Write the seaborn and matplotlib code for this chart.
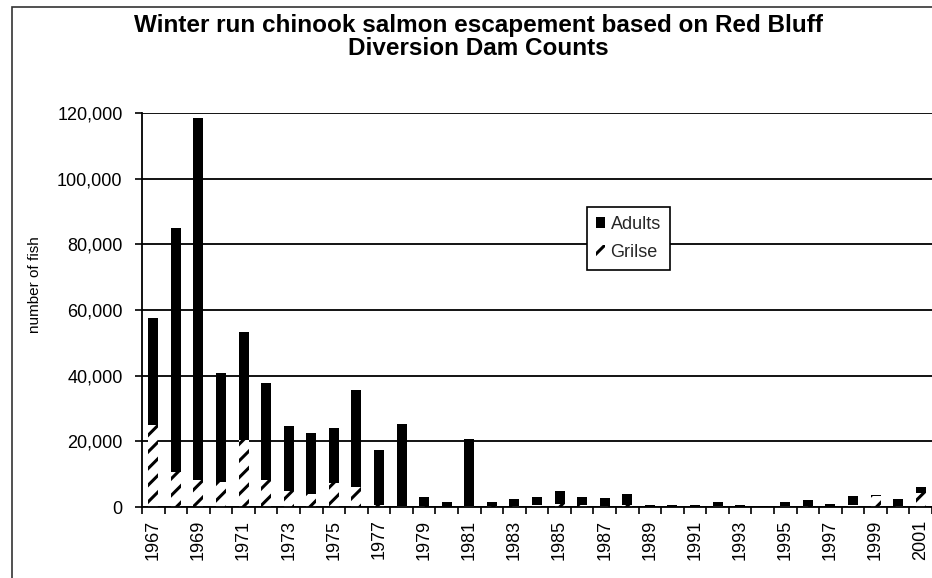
import numpy as np
import pandas as pd
import matplotlib
matplotlib.use("Agg")
import matplotlib.pyplot as plt
import seaborn as sns
from matplotlib.patches import Patch, Rectangle
from matplotlib.ticker import FuncFormatter, FixedLocator

# ---- data ----
years = list(range(1967, 2002))
adults = [32600, 74300, 110200, 33200, 32900, 29500, 19600, 18600, 16700, 29400,
          16800, 24900, 2700, 1500, 20200, 1400, 2100, 2400, 3800, 2400,
          2200, 3400, 500, 400, 500, 1400, 500, 150, 1200, 1700,
          700, 2900, 300, 2000, 2000]
grilse = [25000, 10800, 8200, 7700, 20500, 8200, 5000, 4000, 7300, 6200,
          600, 400, 200, 100, 400, 200, 300, 500, 1000, 500,
          400, 500, 100, 100, 100, 200, 100, 50, 300, 300,
          100, 500, 3300, 300, 4200]
y_ticks = [0, 20000, 40000, 60000, 80000, 100000, 120000]
title = "Winter run chinook salmon escapement based on Red Bluff\nDiversion Dam Counts"
y_label = "number of fish"
series_names = ["Adults", "Grilse"]

sns.set_theme(style="white")
plt.rcParams['font.family'] = ['Liberation Sans', 'DejaVu Sans']
plt.rcParams['hatch.linewidth'] = 2.2

W, H = 932, 578
fig = plt.figure(figsize=(W / 100, H / 100), dpi=100)
fig.patch.set_facecolor("white")
ax = fig.add_axes([142 / W, 71 / H, (W - 142) / W, 394 / H])

df = pd.DataFrame({"year": [str(y) for y in years], "adults": adults, "grilse": grilse})
df["total"] = df["adults"] + df["grilse"]

# total (adults on top) then grilse over the bottom part
sns.barplot(data=df, x="year", y="total", color="black", saturation=1,
            width=0.44, linewidth=0, ax=ax)
n_tot = len(ax.patches)
sns.barplot(data=df, x="year", y="grilse", color="white", saturation=1,
            width=0.44, linewidth=0, ax=ax)
for p in ax.patches[n_tot:]:
    p.set_facecolor("white")
    p.set_edgecolor("black")
    p.set_hatch("//")
    p.set_linewidth(0)

ax.set_ylim(0, 120000)
ax.set_xlim(-0.5, len(years) - 0.5)
ax.set_axisbelow(True)
ax.yaxis.set_major_locator(FixedLocator(y_ticks))
ax.yaxis.set_major_formatter(FuncFormatter(lambda v, p: f"{v:,.0f}"))
ax.yaxis.grid(True, color="black", linewidth=1.3)
ax.xaxis.grid(False)

# x ticks: labels every other year, tick marks at category boundaries
ax.set_xticks(range(0, len(years), 2))
ax.set_xticklabels([str(y) for y in years[::2]], rotation=90)
ax.set_xticks(np.arange(-0.5, len(years), 1), minor=True)
ax.tick_params(axis="x", which="major", length=0, pad=9, labelsize=13, colors="black")
ax.tick_params(axis="x", which="minor", length=5, width=1.2, color="black", direction="out", bottom=True)
ax.tick_params(axis="y", which="major", length=5, width=1.2, color="black", direction="out",
               left=True, pad=9, labelsize=13, labelcolor="black")

ax.set_xlabel("")
ax.set_ylabel("")
for s in ["top", "right"]:
    ax.spines[s].set_visible(False)
for s in ["left", "bottom"]:
    ax.spines[s].set_color("black")
    ax.spines[s].set_linewidth(1.3)

handles = [Patch(facecolor="black", edgecolor="black", linewidth=0, label=series_names[0]),
           Patch(facecolor="white", edgecolor="black", hatch="//", linewidth=0, label=series_names[1])]
leg = ax.legend(handles=handles, loc="upper left", bbox_to_anchor=((587 - 142) / 790, (371 - 71) / 394),
                frameon=True, fancybox=False, borderaxespad=0, fontsize=13,
                handlelength=0.5, handleheight=0.55, handletextpad=0.3, borderpad=0.5,
                labelspacing=0.6)
leg.get_frame().set_edgecolor("black")
leg.get_frame().set_linewidth(1.2)
leg.get_frame().set_facecolor("white")
leg.get_frame().set_alpha(1)

fig.text(478 / W, 1 - 37 / H, title, ha="center", va="center", fontweight="bold",
         fontsize=17.5, linespacing=1.0, color="black")
fig.text(35 / W, 1 - 285 / H, y_label, rotation=90, ha="center", va="center",
         fontsize=11, color="black")

# chart-area border
fig.add_artist(Rectangle((12 / W, -0.05), 1.0, 1 - 7 / H + 0.05, transform=fig.transFigure,
                         fill=False, edgecolor="#333333", linewidth=1.2))

fig.savefig("out.png", dpi=100)
